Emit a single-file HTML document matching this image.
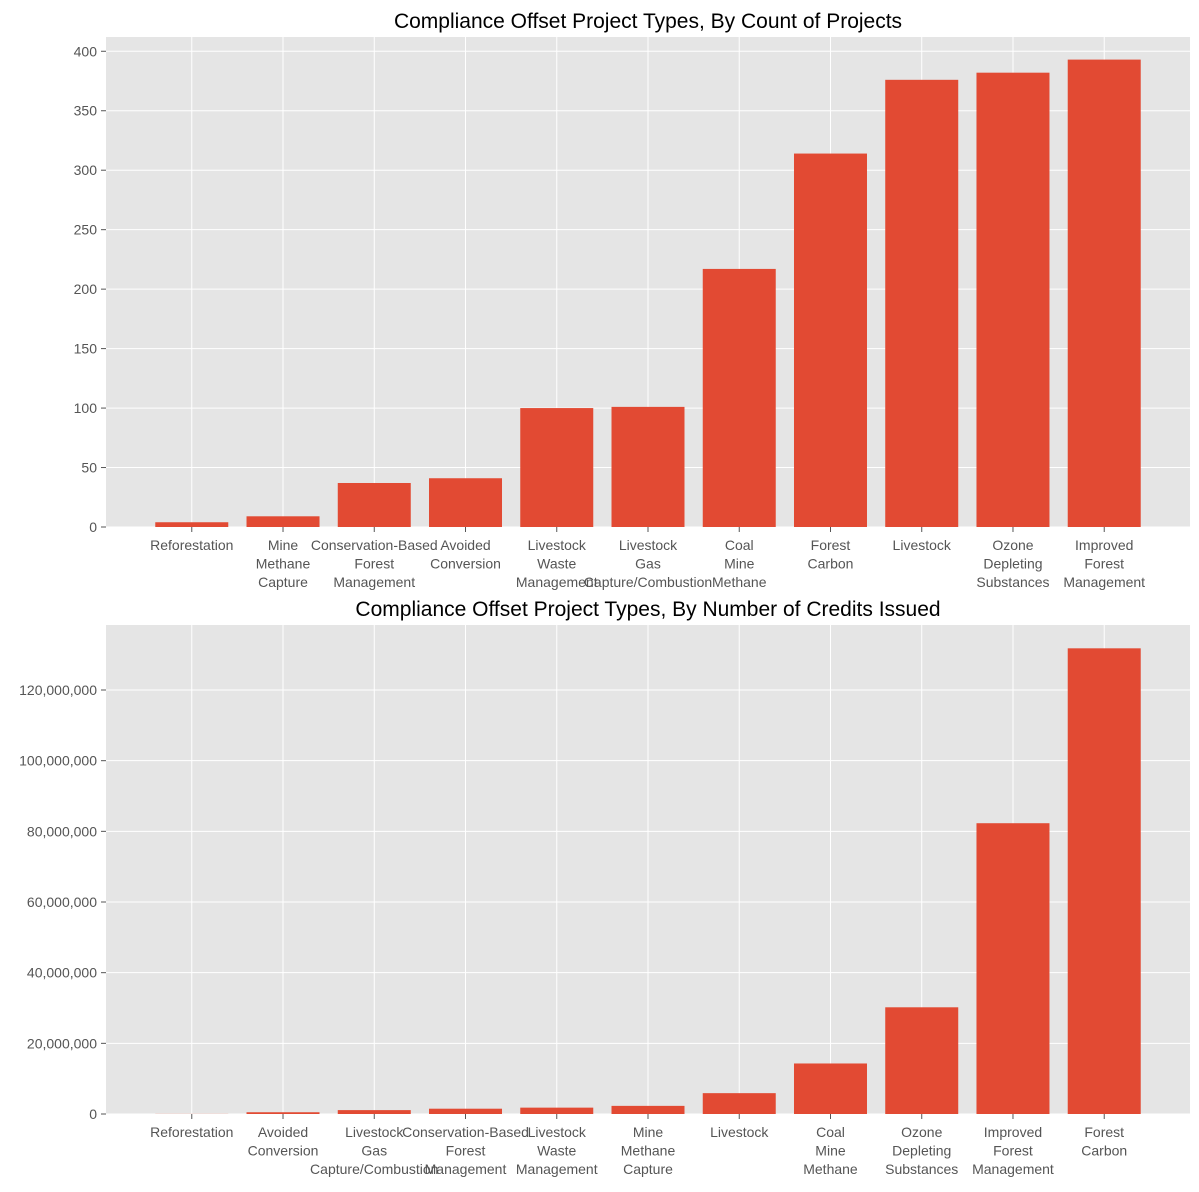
<!DOCTYPE html>
<html><head><meta charset="utf-8"><style>
body{margin:0;background:#fff;}
svg text{font-family:"Liberation Sans",sans-serif;}
</style></head><body>
<svg id="c" width="1199" height="1187" xmlns="http://www.w3.org/2000/svg"></svg>
<script>
const cats1 = ["Reforestation","Mine\nMethane\nCapture","Conservation-Based\nForest\nManagement","Avoided\nConversion","Livestock\nWaste\nManagement","Livestock\nGas\nCapture/Combustion","Coal\nMine\nMethane","Forest\nCarbon","Livestock","Ozone\nDepleting\nSubstances","Improved\nForest\nManagement"];
const vals1 = [4,9,37,41,100,101,217,314,376,382,393];
const ticks1 = [0,50,100,150,200,250,300,350,400];
const cats2 = ["Reforestation","Avoided\nConversion","Livestock\nGas\nCapture/Combustion","Conservation-Based\nForest\nManagement","Livestock\nWaste\nManagement","Mine\nMethane\nCapture","Livestock","Coal\nMine\nMethane","Ozone\nDepleting\nSubstances","Improved\nForest\nManagement","Forest\nCarbon"];
const vals2 = [30000,500000,1100000,1500000,1800000,2300000,5900000,14300000,30200000,82300000,131800000];
const ticks2 = [0,20000000,40000000,60000000,80000000,100000000,120000000];
const svg = document.getElementById('c');
const NS = "http://www.w3.org/2000/svg";
function mk(tag, attrs, parent){const e=document.createElementNS(NS,tag);for(const k in attrs)e.setAttribute(k,attrs[k]);(parent||svg).appendChild(e);return e;}
function panel(prefix, title, cats, vals, ticks, top, bottom, ymax, fmt){
  const L=106, R=1190;
  const g=mk('g',{});
  
  
  const bg=mk('rect',{x:L,y:top,width:R-L,height:bottom-top,fill:'#e5e5e5'},g);
  
  
  const n=cats.length, xmin=-0.94, xmax=n-1+0.94;
  const xs=i=>L+(i-xmin)/(xmax-xmin)*(R-L);
  const ys=v=>bottom-v/ymax*(bottom-top);
  const bw=0.8*(R-L)/(xmax-xmin);
  ticks.forEach(t=>{
    const y=ys(t);
    mk('line',{x1:L,x2:R,y1:y,y2:y,stroke:'#fff','stroke-width':1},g);
    mk('line',{x1:L-5,x2:L,y1:y,y2:y,stroke:'#555'},g);
    const tx=mk('text',{x:L-9,y:y+5,'text-anchor':'end','font-size':14,fill:'#555'},g);
    tx.textContent=fmt(t);
    
    
  });
  cats.forEach((c,i)=>{
    const x=xs(i);
    mk('line',{x1:x,x2:x,y1:top,y2:bottom,stroke:'#fff','stroke-width':1},g);
  });
  cats.forEach((c,i)=>{
    const x=xs(i);
    const b=mk('rect',{x:x-bw/2,y:ys(vals[i]),width:bw,height:bottom-ys(vals[i]),fill:'#E24A33'},g);
    
    
    mk('line',{x1:x,x2:x,y1:bottom,y2:bottom+5,stroke:'#555'},g);
    c.split('\n').forEach((ln,j)=>{
      const t=mk('text',{x:x,y:bottom+23+j*18.5,'text-anchor':'middle','font-size':14,fill:'#555'},g);
      t.textContent=ln;
      
      
    });
  });
  const tt=mk('text',{x:(L+R)/2,y:top-9,'text-anchor':'middle','font-size':21,fill:'#000'},g);
  tt.textContent=title;
  
  
}
panel('count-chart','Compliance Offset Project Types, By Count of Projects',cats1,vals1,ticks1,37,527,412,t=>String(t));
panel('credits-chart','Compliance Offset Project Types, By Number of Credits Issued',cats2,vals2,ticks2,625,1114,138400000,t=>t.toLocaleString('en-US'));
</script>
</body></html>
